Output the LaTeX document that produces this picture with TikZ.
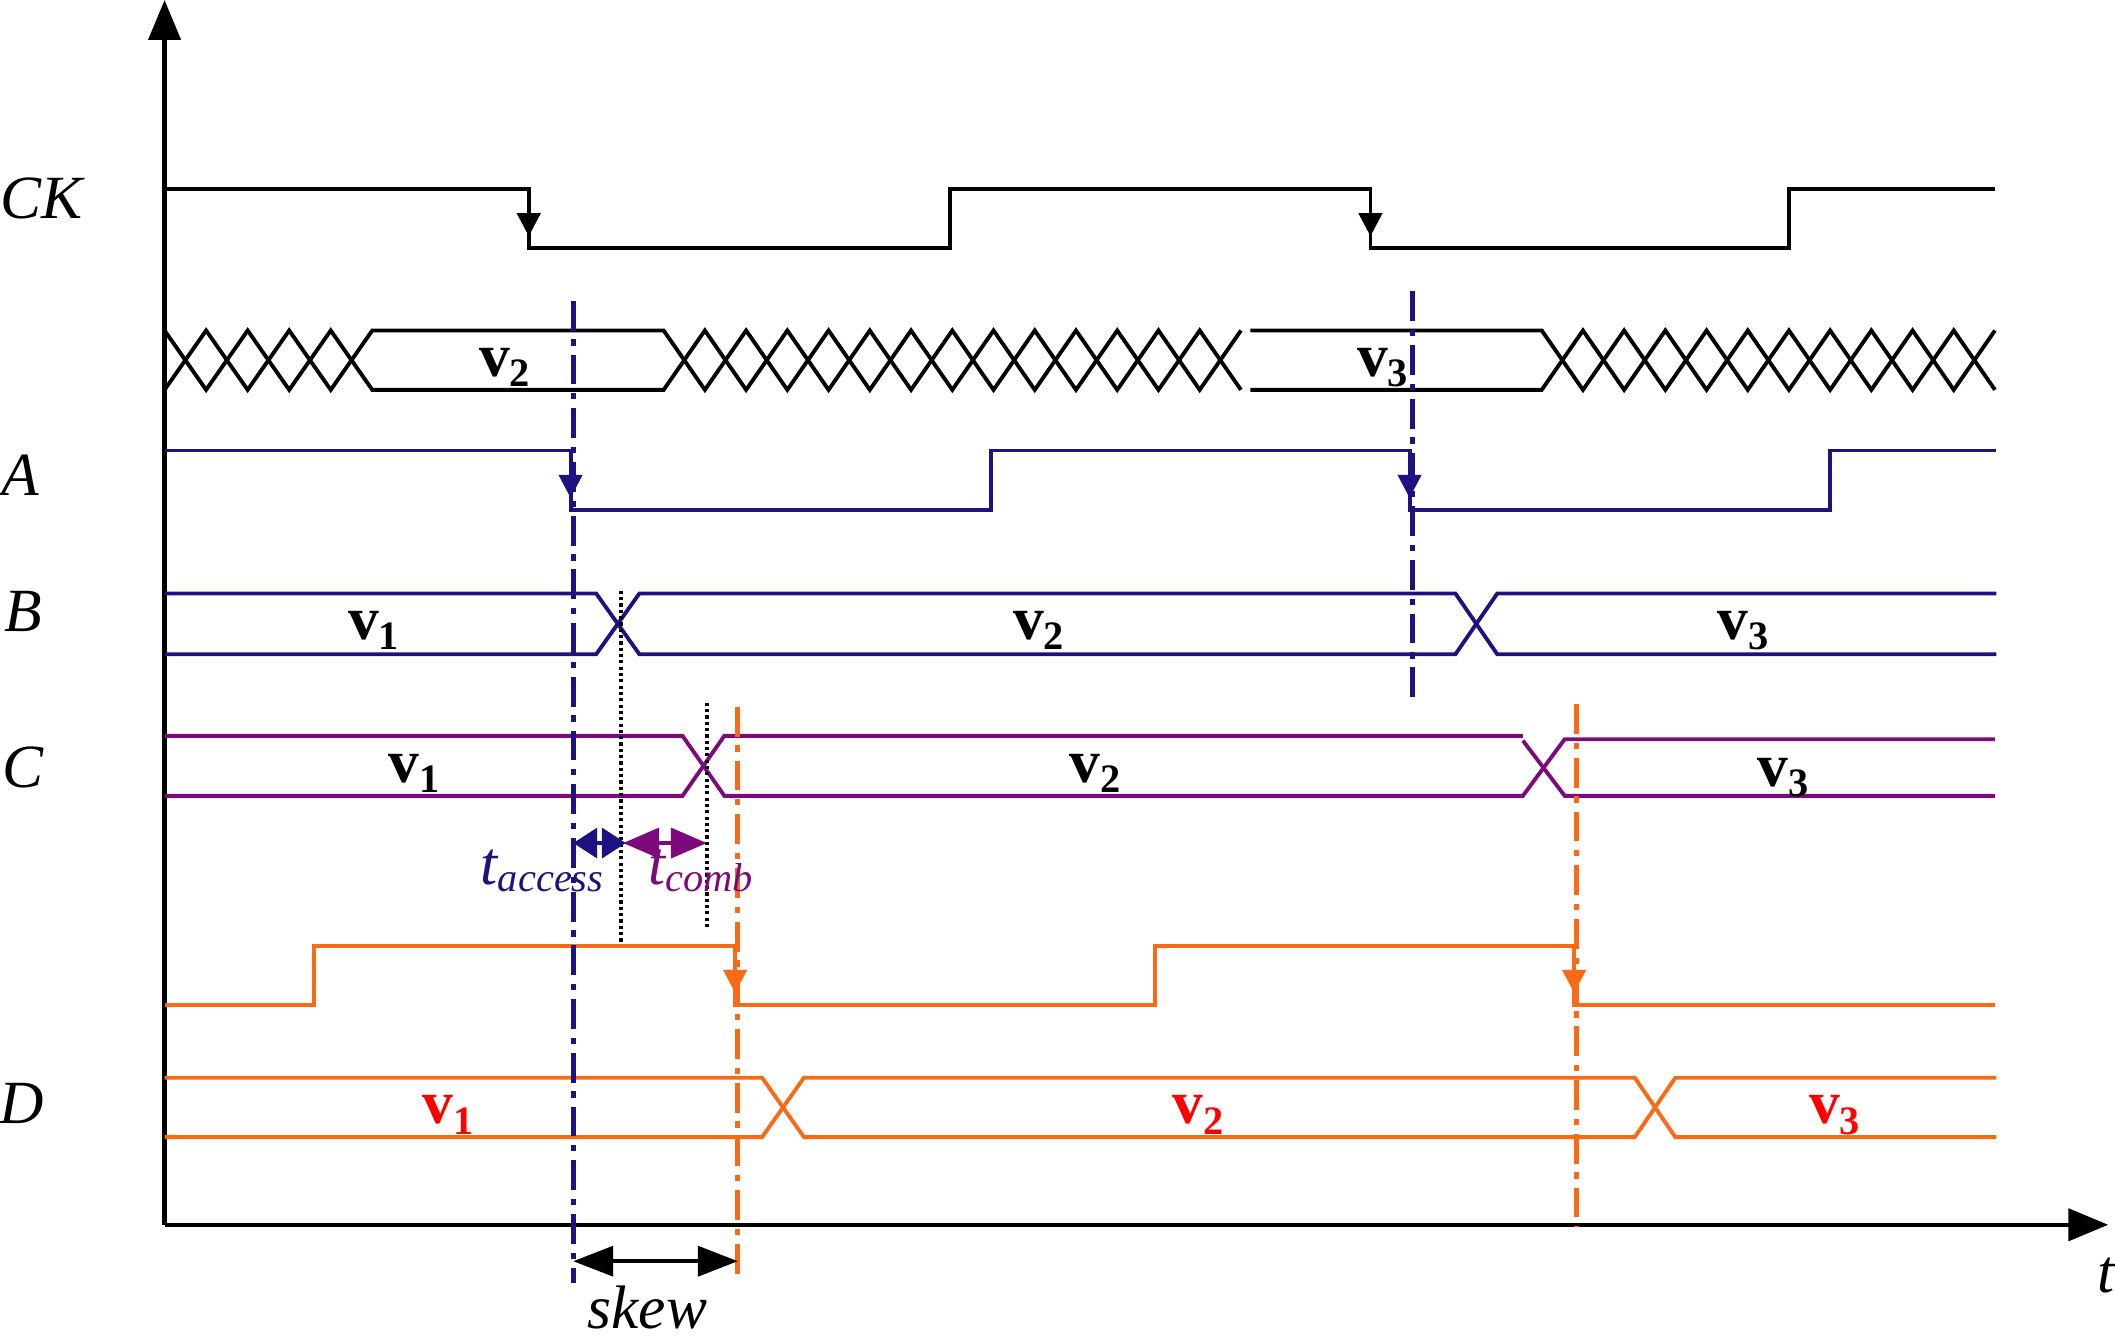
\documentclass[tikz,border=0pt]{standalone}
\usepackage{fontspec}
\setmainfont{Liberation Serif}
\usetikzlibrary{arrows.meta}
\definecolor{navy}{RGB}{28,18,128}
\definecolor{purp}{RGB}{125,10,125}
\definecolor{orng}{RGB}{250,105,20}
\definecolor{redl}{RGB}{255,0,0}
\newcommand{\vsub}[1]{\textbf{v}\raisebox{-3pt}{\fontsize{11.5}{12}\selectfont\bfseries #1}}
\newcommand{\downtip}[3]{\fill[#1] (#2,#3) -- ++(-9,-17) -- ++(18,0) -- cycle;}
\begin{document}
\begin{tikzpicture}[x=0.0135cm,y=-0.0135cm,
  sig/.style={line width=1.1pt, line join=miter},
  axis/.style={line width=1.3pt, -{Triangle[length=0.4cm,width=0.32cm]}},
  lbl/.style={font=\fontsize{17.5}{20}\selectfont\itshape, inner sep=0pt, anchor=base},
  vl/.style={font=\fontsize{17.5}{20}\selectfont, inner sep=0pt, anchor=base},
  dashdot/.style={line width=1.4pt, dash pattern=on 8.5pt off 2.5pt on 1.8pt off 2.5pt},
  dotline/.style={line width=1.1pt, dash pattern=on 0.9pt off 0.9pt},
  sub/.style={font=\fontsize{17.5}{20}\selectfont\itshape, inner sep=0pt, anchor=base west}]
\useasboundingbox (0,0) rectangle (1568,991);

% axes
\coordinate (O) at (122,908);
\coordinate (Ytop) at (122,0);
\coordinate (Xend) at (1563,908);
\draw[axis] (O) -- (Ytop);
\draw[axis] (O) -- (Xend);

% CK
\draw[sig] (122,140) -- (392,140) -- (392,184) -- (704,184) -- (704,140) -- (1016,140) -- (1016,184) -- (1326,184) -- (1326,140) -- (1479,140);
\downtip{black}{392}{175}
\downtip{black}{1016}{175}

% bus row
\draw[sig] (122,245) \foreach \k in {1,...,5}{ -- ({122+\k*30.8},{267-22*cos(180*\k)}) }
  -- (492,289) \foreach \k in {1,...,14}{ -- ({492+\k*30.571},{267+22*cos(180*\k)}) };
\draw[sig] (122,289) \foreach \k in {1,...,5}{ -- ({122+\k*30.8},{267+22*cos(180*\k)}) }
  -- (492,245) \foreach \k in {1,...,14}{ -- ({492+\k*30.571},{267-22*cos(180*\k)}) };
\draw[sig] (927,245) -- (1143,245) \foreach \k in {1,...,11}{ -- ({1143+\k*30.545},{267-22*cos(180*\k)}) };
\draw[sig] (927,289) -- (1143,289) \foreach \k in {1,...,11}{ -- ({1143+\k*30.545},{267+22*cos(180*\k)}) };

% A
\draw[sig,navy] (122,334) -- (423,334) -- (423,378) -- (735,378) -- (735,334) -- (1045,334) -- (1045,378) -- (1357,378) -- (1357,334) -- (1480,334);
\downtip{navy}{423}{369}
\downtip{navy}{1045}{369}

% B
\draw[sig,navy] (122,440) -- (442,440) -- (474,485) -- (1079,485) -- (1110,440) -- (1480,440);
\draw[sig,navy] (122,485) -- (442,485) -- (474,440) -- (1079,440) -- (1110,485) -- (1480,485);

% C
\draw[sig,purp] (122,545.5) -- (506,545.5) -- (537,590) -- (1129,590) -- (1160,548) -- (1479,548);
\draw[sig,purp] (122,590) -- (506,590) -- (537,545.5) -- (1129,545.5);
\draw[sig,purp] (1129,549) -- (1160,590) -- (1479,590);

% orange clock
\draw[sig,orng] (122,745) -- (233,745) -- (233,701) -- (545,701) -- (545,745) -- (856,745) -- (856,701) -- (1167,701) -- (1167,745) -- (1479,745);
\downtip{orng}{545}{736}
\downtip{orng}{1167}{736}

% D
\draw[sig,orng] (122,799) -- (565,799) -- (596,843) -- (1212,843) -- (1242,799) -- (1480,799);
\draw[sig,orng] (122,843) -- (565,843) -- (596,799) -- (1212,799) -- (1242,843) -- (1480,843);

% reference lines
\draw[dashdot,navy] (425,223) -- (425,951);
\draw[dashdot,navy] (1047,216) -- (1047,522);
\draw[dashdot,orng] (547,524) -- (547,948);
\draw[dashdot,orng] (1169,522) -- (1169,910);
\draw[dotline] (460.4,438) -- (460.4,699);
\draw[dotline] (524,521) -- (524,688);

% timing arrows
\coordinate (ta1) at (425,625);
\coordinate (ta2) at (464,625);
\coordinate (tc1) at (462,625);
\coordinate (tc2) at (524,625);
\coordinate (sk1) at (425,935);
\coordinate (sk2) at (547,935);
\draw[navy,line width=1.1pt,{Triangle[length=0.24cm,width=0.3cm]}-{Triangle[length=0.24cm,width=0.3cm]}] (ta1) -- (ta2);
\draw[purp,line width=1.1pt,{Triangle[length=0.36cm,width=0.3cm]}-{Triangle[length=0.36cm,width=0.3cm]}] (tc1) -- (tc2);
\draw[line width=1.1pt,{Triangle[length=0.4cm,width=0.3cm]}-{Triangle[length=0.4cm,width=0.3cm]}] (sk1) -- (sk2);

% labels
\node[lbl] (lCK) at (31,162) {CK};
\node[lbl] (lA) at (15,367) {A};
\node[lbl] (lB) at (17,468) {B};
\node[lbl] (lC) at (17,584) {C};
\node[lbl] (lD) at (16,833) {D};
\node[lbl] (lt) at (1561,958) {t};
\node[lbl] (lskew) at (480,985) {skew};
\node[sub,text=navy] (lacc) at (356,656) {t\raisebox{-2pt}{\fontsize{11.5}{12}\selectfont access}};
\node[sub,text=purp] (lcomb) at (480,656) {t\raisebox{-2pt}{\fontsize{11.5}{12}\selectfont comb}};

\node[vl] (bv2) at (374,279) {\vsub{2}};
\node[vl] (bv3) at (1025,279) {\vsub{3}};
\node[vl] (Bv1) at (277,474) {\vsub{1}};
\node[vl] (Bv2) at (770,474) {\vsub{2}};
\node[vl] (Bv3) at (1292,474) {\vsub{3}};
\node[vl] (Cv1) at (307,580) {\vsub{1}};
\node[vl] (Cv2) at (812,580) {\vsub{2}};
\node[vl] (Cv3) at (1322,583) {\vsub{3}};
\node[vl,text=redl] (Dv1) at (332,833) {\vsub{1}};
\node[vl,text=redl] (Dv2) at (888,833) {\vsub{2}};
\node[vl,text=redl] (Dv3) at (1360,833) {\vsub{3}};
\end{tikzpicture}
\end{document}
